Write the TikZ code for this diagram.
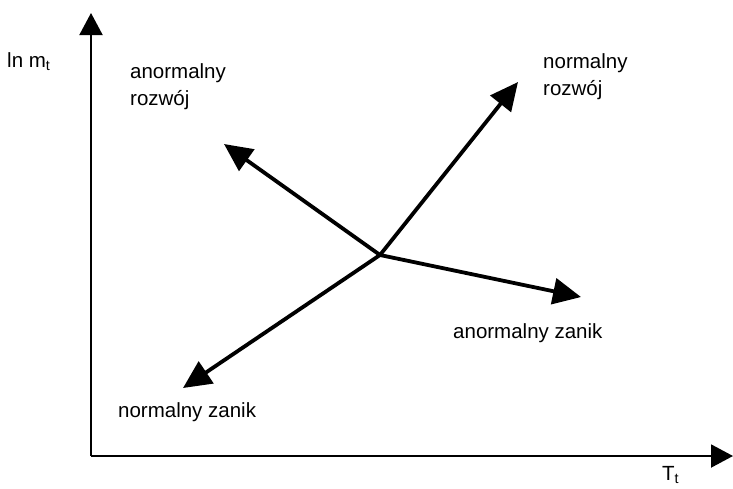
\documentclass[tikz,border=0pt]{standalone}
\usepackage{fontspec}
\setmainfont{Liberation Sans}
\usetikzlibrary{arrows.meta}
\begin{document}
\begin{tikzpicture}[x=1pt,y=-1pt,
  axis/.style={line width=2pt,-{Triangle[length=22pt,width=23pt]}},
  vec/.style={line width=3.8pt,-{Triangle[length=28pt,width=26pt]}},
  lbl/.style={font=\fontsize{20.5}{27}\selectfont,inner sep=0pt,align=left}]
\useasboundingbox (0,0) rectangle (733,488);
\coordinate (o) at (91,456);
\coordinate (ytip) at (91,13);
\coordinate (xtip) at (733,456);
\draw[axis] (o) -- (ytip);
\draw[axis] (o) -- (xtip);
\coordinate (c) at (380,255);
\coordinate (nr) at (518,82);
\coordinate (ar) at (224,144);
\coordinate (az) at (581,297);
\coordinate (nz) at (183,388);
\draw[vec] (c) -- (nr);
\draw[vec] (c) -- (ar);
\draw[vec] (c) -- (az);
\draw[vec] (c) -- (nz);
\node[lbl,anchor=base west] (ylab) at (7,67) {ln m\textsubscript{t}};
\node[lbl,anchor=base west] (xlab) at (662,480) {T\textsubscript{t}};
\node[lbl,anchor=base west] (tnr) at (543,95) {normalny\\rozwój};
\node[lbl,anchor=base west] (tar) at (130,105) {anormalny\\rozwój};
\node[lbl,anchor=base west] (taz) at (453,338) {anormalny zanik};
\node[lbl,anchor=base west] (tnz) at (118,417) {normalny zanik};
\end{tikzpicture}
\end{document}
